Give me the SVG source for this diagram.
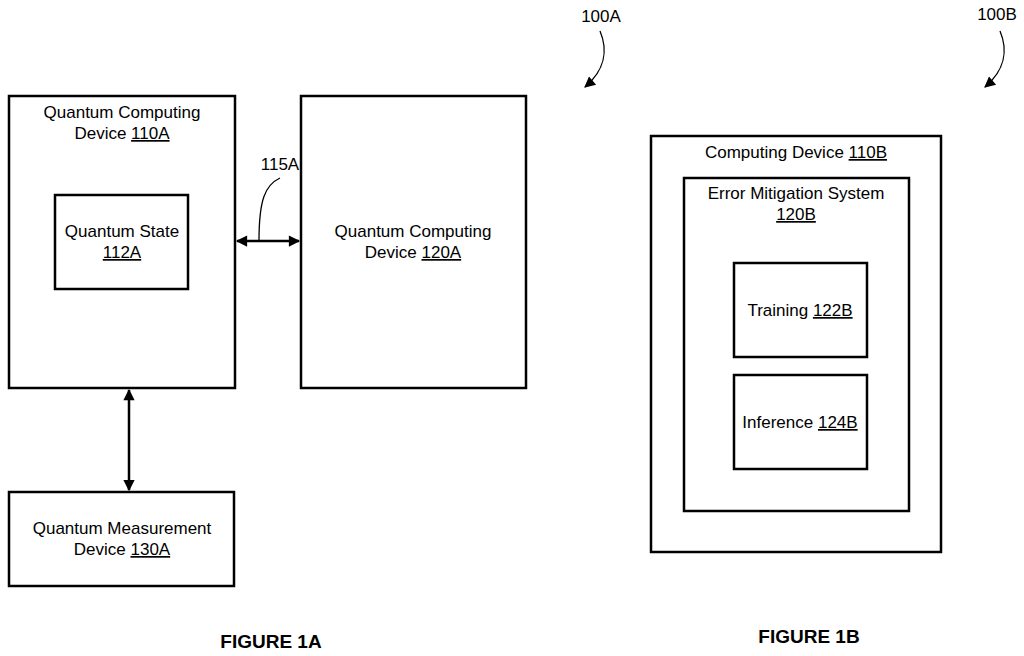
<svg xmlns="http://www.w3.org/2000/svg" width="1024" height="656" viewBox="0 0 1024 656">
<defs>
<style>
.b{fill:#fff;stroke:#000;stroke-width:2.5}
.t{font-family:"Liberation Sans",Arial,sans-serif;font-size:17px;text-anchor:middle;fill:#000}
.u{text-decoration:underline}
.c{fill:none;stroke:#000;stroke-width:2.5}
.l{fill:none;stroke:#000;stroke-width:1.3}
.f{font-family:"Liberation Sans",Arial,sans-serif;font-size:19px;font-weight:bold;text-anchor:middle}
</style>
<marker id="a" viewBox="0 0 10 10" refX="9" refY="5" markerWidth="5.5" markerHeight="4.5" orient="auto-start-reverse"><path d="M0,0L10,5L0,10z"/></marker>
<marker id="s" viewBox="0 0 10 10" refX="9" refY="5" markerWidth="14" markerHeight="11" markerUnits="userSpaceOnUse" orient="auto"><path d="M0,0L10,5L0,10z"/></marker>
</defs>
<g id="n110A"><rect class="b" x="9" y="96" width="226" height="292"/><text class="t" x="122" y="118">Quantum Computing</text><text class="t" x="122" y="139">Device <tspan class="u">110A</tspan></text></g>
<g id="n112A"><rect class="b" x="55" y="195" width="133" height="94"/><text class="t" x="122" y="237">Quantum State</text><text class="t" x="122" y="258"><tspan class="u">112A</tspan></text></g>
<g id="n120A"><rect class="b" x="301" y="96" width="225" height="292"/><text class="t" x="413" y="237">Quantum Computing</text><text class="t" x="413" y="258">Device <tspan class="u">120A</tspan></text></g>
<g id="n130A"><rect class="b" x="9" y="492" width="225" height="94"/><text class="t" x="122" y="534">Quantum Measurement</text><text class="t" x="122" y="555">Device <tspan class="u">130A</tspan></text></g>
<g id="n110B"><rect class="b" x="651" y="136" width="290" height="416"/><text class="t" x="796" y="158">Computing Device <tspan class="u">110B</tspan></text></g>
<g id="n120B"><rect class="b" x="684" y="178" width="225" height="333"/><text class="t" x="796" y="199">Error Mitigation System</text><text class="t" x="796" y="220"><tspan class="u">120B</tspan></text></g>
<g id="n122B"><rect class="b" x="734" y="263" width="133" height="94"/><text class="t" x="800" y="316">Training <tspan class="u">122B</tspan></text></g>
<g id="n124B"><rect class="b" x="734" y="375" width="133" height="94"/><text class="t" x="800" y="428">Inference <tspan class="u">124B</tspan></text></g>
<g id="connectors">
<line class="c" x1="237" y1="241" x2="299" y2="241" marker-start="url(#a)" marker-end="url(#a)"/>
<line class="c" x1="129" y1="390" x2="129" y2="490" marker-start="url(#a)" marker-end="url(#a)"/>
<path class="l" d="M259,241 C259,200 265,185 280,178"/>
<path class="l" d="M600,31 C608,50 605,70 585,87" marker-end="url(#s)"/>
<path class="l" d="M1000,31 C1008,50 1005,70 985,87" marker-end="url(#s)"/>
</g>
<text class="t" x="280" y="170">115A</text>
<text class="t" x="601" y="22">100A</text>
<text class="t" x="997" y="20">100B</text>
<text class="f" x="271" y="648">FIGURE 1A</text>
<text class="f" x="809" y="643">FIGURE 1B</text>
</svg>
